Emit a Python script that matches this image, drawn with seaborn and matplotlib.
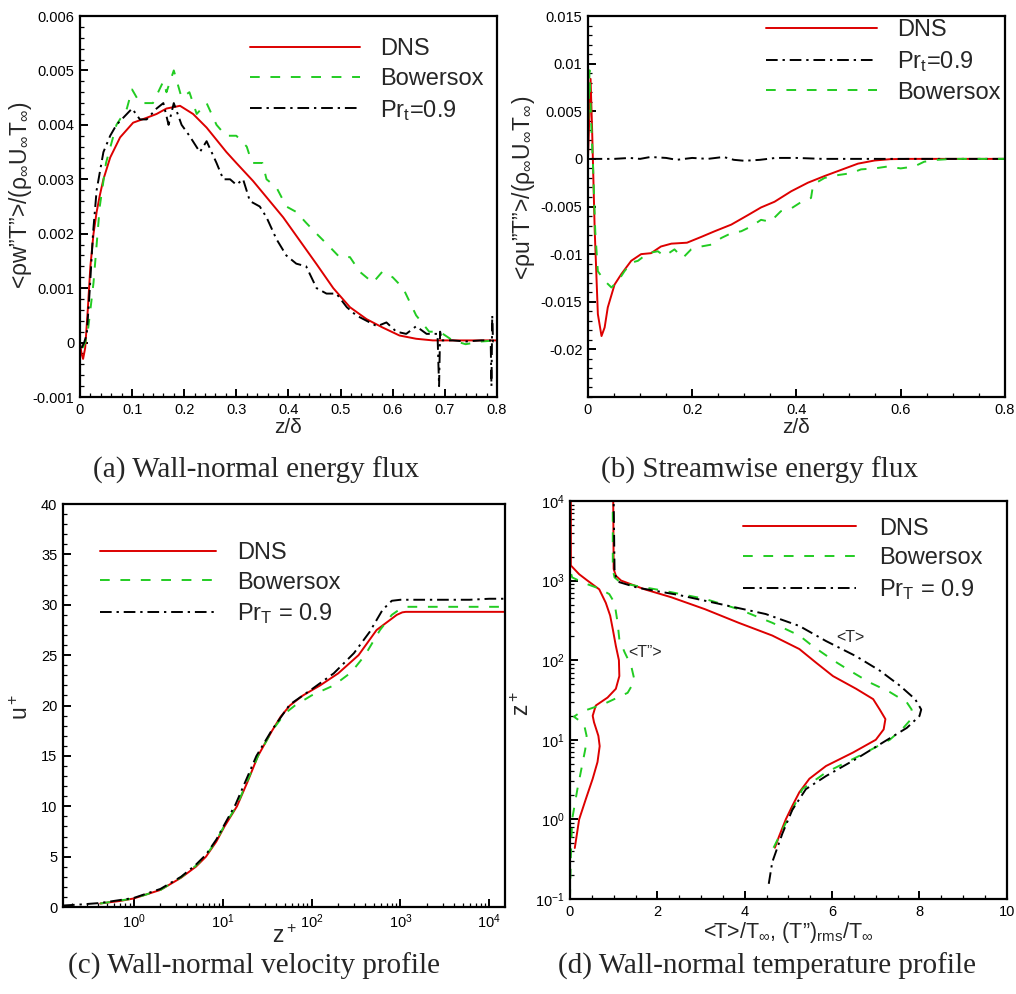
import numpy as np
import pandas as pd
import matplotlib
matplotlib.use("Agg")
import matplotlib.pyplot as plt
import matplotlib.ticker as mticker
import seaborn as sns

# ---------------- data ----------------
# (a) wall-normal energy flux
a_dns_x = [0, 0.003, 0.006, 0.01, 0.015, 0.02, 0.026, 0.032, 0.038, 0.045, 0.058, 0.077, 0.102, 0.128, 0.147,
           0.166, 0.192, 0.217, 0.243, 0.281, 0.30, 0.332, 0.358, 0.39, 0.422, 0.454, 0.486, 0.518, 0.55,
           0.58, 0.613, 0.645, 0.677, 0.72, 0.8]
a_dns_y = [0, -0.0002, -0.0003, -0.0001, 0.0006, 0.0014, 0.002, 0.0024, 0.0027, 0.003, 0.0034, 0.00377,
           0.00404, 0.00413, 0.0042, 0.0043, 0.00435, 0.0042, 0.00395, 0.0035, 0.0033, 0.00297, 0.00267,
           0.0023, 0.00187, 0.00144, 0.001, 0.00065, 0.00043, 0.00028, 0.00013, 0.00007, 0.00004, 0.00004,
           0.00004]
a_bow_x = [0.005, 0.01, 0.015, 0.02, 0.026, 0.032, 0.038, 0.05, 0.07, 0.09, 0.1, 0.115, 0.128, 0.14, 0.16,
           0.166, 0.18, 0.195, 0.21, 0.224, 0.243, 0.262, 0.28, 0.30, 0.32, 0.33, 0.35, 0.358, 0.377, 0.396,
           0.415, 0.434, 0.454, 0.48, 0.498, 0.518, 0.537, 0.562, 0.58, 0.6, 0.62, 0.645, 0.67, 0.69, 0.715,
           0.74, 0.77, 0.8]
a_bow_y = [-0.0001, 0.0, 0.0002, 0.0006, 0.0011, 0.0018, 0.0025, 0.0033, 0.004, 0.0043, 0.00465, 0.0044,
           0.0044, 0.0044, 0.0048, 0.0046, 0.005, 0.0045, 0.0046, 0.0042, 0.0044, 0.004, 0.0038, 0.0038,
           0.0036, 0.0033, 0.0033, 0.003, 0.00285, 0.0025, 0.0024, 0.0022, 0.002, 0.00175, 0.00157, 0.00157,
           0.0013, 0.0011, 0.0013, 0.0012, 0.001, 0.0005, 0.0002, 0.0002, 0.00004, -0.00003, 0.00002, 0.00004]
a_prt_x = [0.003, 0.008, 0.013, 0.019, 0.025, 0.032, 0.045, 0.058, 0.07, 0.09, 0.1, 0.115, 0.128, 0.147, 0.16,
           0.17, 0.18, 0.195, 0.21, 0.23, 0.243, 0.262, 0.275, 0.288, 0.30, 0.313, 0.326, 0.345, 0.358, 0.377,
           0.396, 0.415, 0.434, 0.454, 0.473, 0.492, 0.512, 0.53, 0.55, 0.57, 0.588, 0.607, 0.626, 0.645,
           0.665, 0.686, 0.689, 0.691, 0.694, 0.715, 0.74, 0.77, 0.788, 0.7895, 0.791, 0.7925, 0.8]
a_prt_y = [-0.0001, 0.0, 0.00015, 0.001, 0.002, 0.0028, 0.0035, 0.0038, 0.004, 0.0042, 0.0043, 0.0041,
           0.0041, 0.0043, 0.0044, 0.004, 0.0044, 0.004, 0.0038, 0.0035, 0.0037, 0.0033, 0.003, 0.003, 0.0029,
           0.003, 0.0026, 0.0025, 0.0023, 0.0019, 0.0016, 0.00145, 0.0014, 0.001, 0.0009, 0.0009, 0.00065,
           0.0005, 0.0004, 0.0003, 0.00037, 0.0002, 0.00016, 0.0003, 0.00016, 0.00016, -0.0008, 0.0002,
           0.00004, 0.00004, 0.00002, 0.00004, 0.00004, -0.0008, 0.0005, 0.00002, 0.00004]

# (b) streamwise energy flux
b_dns_x = [0, 0.003, 0.005, 0.008, 0.013, 0.019, 0.026, 0.032, 0.038, 0.051, 0.064, 0.083, 0.102, 0.121, 0.14,
           0.16, 0.19, 0.217, 0.243, 0.275, 0.307, 0.332, 0.358, 0.39, 0.422, 0.454, 0.486, 0.518, 0.55, 0.58,
           0.62, 0.7, 0.8]
b_dns_y = [0.0, 0.005, 0.0084, 0.003, -0.0076, -0.0163, -0.0186, -0.0177, -0.0156, -0.0132, -0.0121, -0.0107,
           -0.0100, -0.0099, -0.0092, -0.0089, -0.0088, -0.0082, -0.0076, -0.0069, -0.0059, -0.0051, -0.0045,
           -0.0034, -0.0025, -0.0018, -0.00115, -0.0005, -0.00017, -0.00003, 0, 0, 0]
b_bow_x = [0, 0.003, 0.006, 0.0096, 0.014, 0.019, 0.032, 0.045, 0.058, 0.07, 0.083, 0.096, 0.115, 0.134,
           0.147, 0.166, 0.182, 0.198, 0.217, 0.237, 0.256, 0.275, 0.294, 0.313, 0.332, 0.35, 0.37, 0.39,
           0.41, 0.428, 0.432, 0.454, 0.48, 0.505, 0.524, 0.55, 0.575, 0.6, 0.626, 0.645, 0.67, 0.7, 0.8]
b_bow_y = [0.002, 0.0093, 0.004, -0.0006, -0.0076, -0.0118, -0.0128, -0.0135, -0.0128, -0.0118, -0.0109,
           -0.0107, -0.0099, -0.0097, -0.0102, -0.0095, -0.0104, -0.0095, -0.0092, -0.009, -0.0083, -0.0078,
           -0.0076, -0.0071, -0.0064, -0.0066, -0.0055, -0.0052, -0.0045, -0.0041, -0.0027, -0.002, -0.0017,
           -0.0015, -0.0011, -0.001, -0.0008, -0.001, -0.0008, -0.0003, -0.0001, 0, 0]
b_prt_x = [0.005, 0.05, 0.08, 0.1, 0.12, 0.15, 0.17, 0.2, 0.23, 0.26, 0.28, 0.3, 0.33, 0.36, 0.4, 0.45, 0.5,
           0.6, 0.7, 0.8]
b_prt_y = [0.0, 0.0, 0.0001, 0.0, 0.0002, 0.0001, -0.0001, 0.0001, 0.0, 0.0002, -0.0001, -0.0002, -0.0001,
           0.0001, 0.0001, 0.0, 0.0, 0.0, 0.0, 0.0]

# (c) velocity profile
c_dns_z = [0.42, 0.7, 1.0, 2.0, 3.4, 5.0, 6.5, 8.5, 10.5, 14.5, 19, 25, 36, 45, 57, 80, 125, 200, 338, 540,
           910, 1050, 1150, 15000]
c_dns_u = [0.35, 0.6, 0.85, 1.7, 2.9, 4.0, 5.0, 6.5, 8.0, 10.0, 12.4, 15.0, 17.5, 18.9, 20.0, 21.0, 22.0,
           23.2, 25.0, 27.5, 29.0, 29.25, 29.3, 29.3]
c_bow_z = [0.42, 1.0, 2.0, 3.4, 5.0, 6.5, 8.5, 10.5, 14.5, 25, 36, 50, 65, 100, 178, 280, 400, 590, 800, 1000,
           1200, 15000]
c_bow_u = [0.35, 0.85, 1.7, 2.95, 4.1, 5.1, 6.6, 8.1, 10.1, 15.0, 17.5, 19.2, 20.0, 21.0, 22.0, 23.3, 25.0,
           27.5, 29.0, 29.6, 29.8, 29.8]
c_prt_z = [0.16, 0.25, 0.42, 1.0, 2.0, 3.4, 5.0, 6.5, 8.5, 10.5, 14.0, 24, 36, 57, 100, 178, 300, 450, 630,
           800, 1000, 6000, 10000, 15000]
c_prt_u = [0.15, 0.25, 0.4, 0.9, 1.8, 3.0, 4.2, 5.2, 6.7, 8.2, 10.2, 15.0, 17.6, 20.1, 21.6, 23.2, 25.2,
           27.3, 29.5, 30.4, 30.5, 30.5, 30.6, 30.6]

# (d) temperature profile
d_dns_T_z = [0.44, 0.60, 1.0, 1.48, 2.19, 3.24, 4.68, 6.92, 10.0, 13.5, 18.2, 24.0, 32.4, 43.7, 63.1, 93.3,
             138, 204, 295, 437, 617, 776, 1000, 1150, 1400, 10000]
d_dns_T = [4.69, 4.78, 4.94, 5.09, 5.25, 5.48, 5.86, 6.48, 7.0, 7.18, 7.22, 7.09, 6.94, 6.55, 6.02, 5.63,
           5.25, 4.63, 3.86, 3.09, 2.32, 1.71, 1.17, 1.05, 1.0, 0.99]
d_bow_T_z = [0.44, 1.0, 2.4, 3.89, 6.31, 10, 14.1, 18.2, 24, 29.5, 39.8, 52.5, 74.1, 100, 151, 204, 295,
             437, 589, 741, 851, 933, 1096, 1380, 10000]
d_bow_T = [4.66, 4.98, 5.32, 5.86, 6.63, 7.32, 7.63, 7.81, 7.82, 7.71, 7.32, 6.86, 6.4, 6.02, 5.55, 5.25,
           4.63, 3.86, 3.09, 2.17, 1.55, 1.17, 1.02, 0.98, 0.98]
d_prt_T_z = [0.155, 0.29, 0.66, 1.32, 2.4, 3.5, 5.75, 9.3, 14.1, 19.9, 24, 32.4, 47.9, 74, 112, 174, 269,
             380, 501, 661, 813, 955, 1120, 1380, 10000]
d_prt_T = [4.55, 4.63, 4.86, 5.09, 5.4, 5.86, 6.55, 7.17, 7.71, 8.0, 8.04, 7.9, 7.55, 7.09, 6.55, 5.86,
           5.25, 4.48, 3.48, 2.48, 1.55, 1.13, 1.05, 1.02, 1.0]
d_dns_R_z = [0.437, 1.0, 1.78, 3.24, 5.25, 8.32, 11.2, 16.6, 20.0, 26.9, 33.9, 43.7, 63.1, 100, 151, 245,
             363, 525, 776, 1000, 1202, 1549, 10000]
d_dns_R = [0.11, 0.21, 0.36, 0.52, 0.63, 0.68, 0.65, 0.55, 0.52, 0.59, 0.86, 1.05, 1.13, 1.12, 1.05, 0.98,
           0.92, 0.82, 0.67, 0.4, 0.21, 0.02, 0.02]
d_bow_R_z = [0.1, 0.347, 1.0, 2.40, 4.27, 7.59, 11.2, 15.8, 19.5, 22.4, 28.2, 38.9, 55.0, 85.1, 126, 182,
             295, 525, 676, 794, 933, 1096, 1380, 10000]
d_bow_R = [0.0, 0.02, 0.05, 0.17, 0.26, 0.35, 0.38, 0.32, 0.09, 0.25, 0.78, 1.32, 1.48, 1.40, 1.25, 1.13,
           1.09, 1.02, 0.9, 0.67, 0.32, 0.05, 0.0, 0.0]

# tick labels
a_xticks = [0, 0.1, 0.2, 0.3, 0.4, 0.5, 0.6, 0.7, 0.8]
a_xticklabels = ['0', '0.1', '0.2', '0.3', '0.4', '0.5', '0.6', '0.7', '0.8']
a_yticks = [-0.001, 0, 0.001, 0.002, 0.003, 0.004, 0.005, 0.006]
a_yticklabels = ['-0.001', '0', '0.001', '0.002', '0.003', '0.004', '0.005', '0.006']
b_xticks = [0, 0.2, 0.4, 0.6, 0.8]
b_xticklabels = ['0', '0.2', '0.4', '0.6', '0.8']
b_yticks = [-0.02, -0.015, -0.01, -0.005, 0, 0.005, 0.01, 0.015]
b_yticklabels = ['-0.02', '-0.015', '-0.01', '-0.005', '0', '0.005', '0.01', '0.015']
c_yticks = [0, 5, 10, 15, 20, 25, 30, 35, 40]
c_xticks = [1, 10, 100, 1000, 10000]
c_xticklabels = ['$10^{0}$', '$10^{1}$', '$10^{2}$', '$10^{3}$', '$10^{4}$']
d_xticks = [0, 2, 4, 6, 8, 10]
d_yticks = [0.1, 1, 10, 100, 1000, 10000]
d_yticklabels = ['$10^{-1}$', '$10^{0}$', '$10^{1}$', '$10^{2}$', '$10^{3}$', '$10^{4}$']

captions = ['(a) Wall-normal energy flux', '(b) Streamwise energy flux',
            '(c) Wall-normal velocity profile', '(d) Wall-normal temperature profile']

# ---------------- style ----------------
sns.set_theme(style='ticks')
plt.rcParams['font.family'] = ['Liberation Sans', 'DejaVu Sans']
plt.rcParams['mathtext.fontset'] = 'custom'
plt.rcParams['mathtext.rm'] = 'Liberation Sans'
plt.rcParams['mathtext.it'] = 'Liberation Sans'
plt.rcParams['mathtext.bf'] = 'Liberation Sans'
plt.rcParams['mathtext.sf'] = 'Liberation Sans'
plt.rcParams['axes.linewidth'] = 1.6
plt.rcParams['axes.edgecolor'] = 'black'

RED = '#dd0000'
GREEN = '#22cc22'
BLACK = 'black'
LW = 1.4
DASH = (0, (5, 5.5))
DASHDOT = (0, (6, 2.5, 1.2, 2.5))
XL_FS = 15
YL_FS = 16.5

fig = plt.figure(figsize=(10.16, 9.94), dpi=100)
ax_a = fig.add_axes([0.0787, 0.6006, 0.4104, 0.3833])
ax_b = fig.add_axes([0.5787, 0.6006, 0.4104, 0.3833])
ax_c = fig.add_axes([0.0620, 0.0875, 0.4350, 0.4054])
ax_d = fig.add_axes([0.5610, 0.0956, 0.4300, 0.4004])


def line(ax, x, y, color, ls, label=None):
    df = pd.DataFrame({'x': x, 'y': y})
    sns.lineplot(data=df, x='x', y='y', ax=ax, color=color, linestyle=ls, lw=LW,
                 estimator=None, sort=False, label=label, legend=False)


def style_axis(ax, tick_fs=10.5):
    ax.tick_params(which='both', direction='in', top=False, right=False, colors='black',
                   labelsize=tick_fs, pad=4)
    ax.tick_params(which='major', length=6, width=1.4)
    ax.tick_params(which='minor', length=3, width=0.9)
    for s in ax.spines.values():
        s.set_visible(True)
        s.set_linewidth(1.6)
        s.set_color('black')


def legend(ax, x, y, fs, hl, htp=0.85, ls=0.33):
    h, l = ax.get_legend_handles_labels()
    ax.legend(h, l, loc='upper left', bbox_to_anchor=(x, y), frameon=False, fontsize=fs,
              handlelength=hl, handletextpad=htp, labelspacing=ls, borderpad=0, borderaxespad=0)


# ---- (a)
line(ax_a, a_dns_x, a_dns_y, RED, '-', 'DNS')
line(ax_a, a_bow_x, a_bow_y, GREEN, DASH, 'Bowersox')
line(ax_a, a_prt_x, a_prt_y, BLACK, DASHDOT, 'Pr$_t$=0.9')
ax_a.set_xlim(0, 0.8)
ax_a.set_ylim(-0.001, 0.006)
ax_a.set_xticks(a_xticks, a_xticklabels)
ax_a.set_yticks(a_yticks, a_yticklabels)
ax_a.xaxis.set_minor_locator(mticker.MultipleLocator(0.02))
ax_a.yaxis.set_minor_locator(mticker.MultipleLocator(0.0002))
style_axis(ax_a)
ax_a.set_xlabel('z/δ', fontsize=XL_FS)
ax_a.set_ylabel('<ρw”T”>/(ρ$_\\infty$U$_\\infty$T$_\\infty$)', fontsize=YL_FS)
ax_a.xaxis.set_label_coords(0.5, -0.055)
ax_a.yaxis.set_label_coords(-0.11, 0.53)
legend(ax_a, 0.408, 0.942, 17, 4.66)

# ---- (b)
line(ax_b, b_dns_x, b_dns_y, RED, '-', 'DNS')
line(ax_b, b_prt_x, b_prt_y, BLACK, DASHDOT, 'Pr$_t$=0.9')
line(ax_b, b_bow_x, b_bow_y, GREEN, DASH, 'Bowersox')
ax_b.set_xlim(0, 0.8)
ax_b.set_ylim(-0.025, 0.015)
ax_b.set_xticks(b_xticks, b_xticklabels)
ax_b.set_yticks(b_yticks, b_yticklabels)
ax_b.xaxis.set_minor_locator(mticker.MultipleLocator(0.05))
ax_b.yaxis.set_minor_locator(mticker.MultipleLocator(0.001))
style_axis(ax_b)
ax_b.set_xlabel('z/δ', fontsize=XL_FS)
ax_b.set_ylabel('<ρu”T”>/(ρ$_\\infty$U$_\\infty$T$_\\infty$)', fontsize=YL_FS)
ax_b.xaxis.set_label_coords(0.5, -0.055)
ax_b.yaxis.set_label_coords(-0.122, 0.55)
legend(ax_b, 0.427, 0.992, 17, 4.7)

# ---- (c)
line(ax_c, c_dns_z, c_dns_u, RED, '-', 'DNS')
line(ax_c, c_bow_z, c_bow_u, GREEN, DASH, 'Bowersox')
line(ax_c, c_prt_z, c_prt_u, BLACK, DASHDOT, 'Pr$_T$ = 0.9')
ax_c.set_xscale('log')
ax_c.set_xlim(0.16, 15000)
ax_c.set_ylim(0, 40)
ax_c.set_xticks(c_xticks, c_xticklabels)
ax_c.set_yticks(c_yticks)
ax_c.xaxis.set_minor_locator(mticker.LogLocator(base=10, subs=np.arange(2, 10), numticks=20))
ax_c.xaxis.set_minor_formatter(mticker.NullFormatter())
ax_c.yaxis.set_minor_locator(mticker.MultipleLocator(1))
style_axis(ax_c)
ax_c.set_xlabel('z$^+$', fontsize=YL_FS)
ax_c.set_ylabel('u$^+$', fontsize=YL_FS)
ax_c.xaxis.set_label_coords(0.5, -0.045)
ax_c.yaxis.set_label_coords(-0.068, 0.496)
legend(ax_c, 0.084, 0.906, 17, 4.9, htp=0.9)

# ---- (d)
line(ax_d, d_dns_T, d_dns_T_z, RED, '-', 'DNS')
line(ax_d, d_bow_T, d_bow_T_z, GREEN, DASH, 'Bowersox')
line(ax_d, d_prt_T, d_prt_T_z, BLACK, DASHDOT, 'Pr$_T$ = 0.9')
line(ax_d, d_dns_R, d_dns_R_z, RED, '-')
line(ax_d, d_bow_R, d_bow_R_z, GREEN, DASH)
ax_d.set_yscale('log')
ax_d.set_xlim(0, 10)
ax_d.set_ylim(0.1, 10000)
ax_d.set_xticks(d_xticks)
ax_d.set_yticks(d_yticks, d_yticklabels)
ax_d.xaxis.set_minor_locator(mticker.MultipleLocator(0.5))
ax_d.yaxis.set_minor_locator(mticker.LogLocator(base=10, subs=np.arange(2, 10), numticks=20))
ax_d.yaxis.set_minor_formatter(mticker.NullFormatter())
style_axis(ax_d)
ax_d.set_xlabel('<T>/T$_\\infty$, (T”)$_{\\mathrm{rms}}$/T$_\\infty$', fontsize=15.5)
ax_d.set_ylabel('z$^+$', fontsize=YL_FS)
ax_d.xaxis.set_label_coords(0.5, -0.053)
ax_d.yaxis.set_label_coords(-0.082, 0.49)
legend(ax_d, 0.396, 0.958, 17, 4.8, htp=0.95)
ax_d.text(1.72, 126, '<T”>', fontsize=11.5, ha='center', va='center')
ax_d.text(6.41, 190, '<T>', fontsize=11.5, ha='center', va='center')

# ---- captions
cap_pos = [(256, 470), (760, 470), (254, 966), (767, 966)]
for (px, py), cap in zip(cap_pos, captions):
    fig.text(px / 1016, 1 - py / 994, cap, ha='center', va='center', fontsize=21,
             family=['Liberation Serif', 'DejaVu Serif'])

fig.savefig('out.png', dpi=100)
